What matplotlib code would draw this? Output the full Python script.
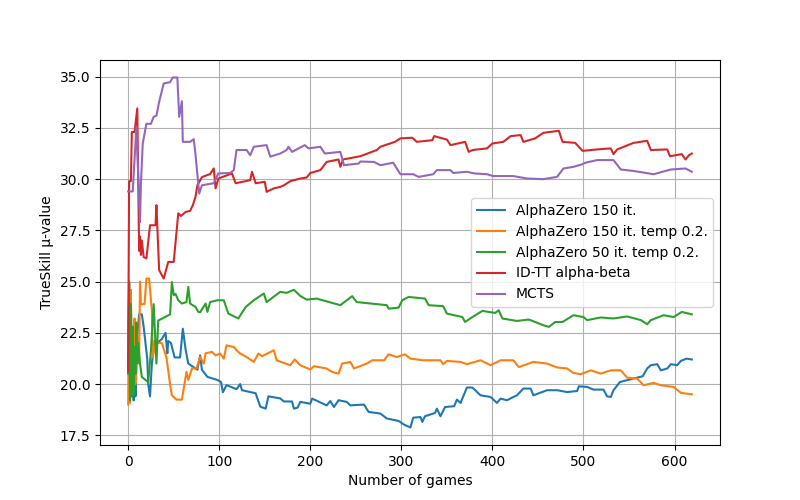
import matplotlib
matplotlib.use("Agg")
import matplotlib.pyplot as plt

# AlphaZero 150 it.
az150_x = [0, 1, 2, 3, 4, 5, 6, 7, 8, 9, 10, 12, 15, 17, 19, 21, 22, 24, 26, 29, 32, 37, 41, 43, 44,
           47, 51, 57, 60, 63, 66, 76, 79, 81, 87, 98, 102, 104, 108, 119, 123, 125, 140, 145, 151,
           154, 167, 171, 180, 182, 186, 189, 200, 202, 218, 222, 226, 231, 240, 244, 259, 264, 277,
           284, 297, 303, 310, 313, 321, 323, 326, 337, 339, 343, 348, 358, 361, 365, 372, 378, 387,
           398, 405, 409, 416, 423, 427, 434, 442, 445, 460, 471, 482, 493, 495, 504, 511, 522, 526,
           530, 533, 540, 548, 555, 565, 570, 574, 581, 585, 592, 596, 603, 607, 613, 619]
az150_y = [20.7, 25.0, 19.1, 24.0, 19.4, 22.6, 19.2, 21.5, 19.4, 20.8, 22.4, 23.4, 23.4, 22.8, 22.0,
           21.2, 20.0, 19.4, 21.0, 22.1, 22.0, 22.2, 22.5, 21.5, 22.1, 22.0, 21.3, 21.3, 22.7, 21.7,
           21.0, 20.7, 21.4, 20.7, 20.35, 20.2, 20.1, 19.6, 19.95, 19.75, 20.0, 19.7, 19.55, 18.9,
           18.8, 19.4, 19.3, 19.15, 19.15, 18.8, 18.85, 19.13, 19.04, 19.29, 18.96, 19.17, 18.88,
           19.21, 19.13, 18.96, 19.0, 18.64, 18.56, 18.32, 18.2, 18.02, 17.88, 18.36, 18.39, 18.15,
           18.43, 18.59, 18.8, 18.43, 18.88, 18.92, 19.24, 19.08, 19.83, 19.83, 19.45, 19.37, 19.08,
           19.29, 19.21, 19.37, 19.45, 19.78, 19.78, 19.45, 19.7, 19.7, 19.61, 19.66, 19.89, 19.86,
           19.73, 19.73, 19.4, 19.37, 19.7, 20.1, 20.19, 20.27, 20.38, 20.76, 20.92, 20.97, 20.67,
           20.76, 20.97, 20.92, 21.13, 21.24, 21.2]

# AlphaZero 150 it. temp 0.2
az150t_x = [0, 1, 2, 3, 4, 5, 6, 7, 8, 9, 10, 12, 13, 14, 18, 20, 23, 26, 27, 30, 33, 37, 42, 46, 48,
            53, 59, 64, 66, 70, 75, 79, 83, 85, 92, 96, 101, 105, 108, 116, 119, 123, 130, 138, 143,
            147, 160, 163, 178, 183, 189, 200, 204, 218, 224, 231, 235, 244, 248, 262, 268, 281, 286,
            295, 304, 310, 324, 343, 346, 350, 365, 372, 387, 398, 409, 423, 429, 445, 460, 471, 482,
            489, 497, 508, 519, 530, 541, 548, 559, 566, 577, 585, 599, 607, 619]
az150t_y = [19.0, 25.0, 19.1, 24.6, 19.5, 22.0, 19.7, 23.2, 20.0, 21.5, 22.3, 21.0, 25.0, 23.9, 23.9,
            25.15, 25.15, 23.6, 21.3, 22.1, 22.0, 22.0, 21.3, 20.0, 19.45, 19.24, 19.24, 20.6, 20.2,
            20.76, 20.76, 21.32, 21.0, 21.5, 21.57, 21.4, 21.49, 21.24, 21.89, 21.81, 21.65, 21.49,
            21.32, 21.08, 21.49, 21.36, 21.65, 21.16, 20.92, 21.2, 20.92, 20.71, 20.87, 20.76, 20.59,
            20.51, 21.0, 21.08, 20.76, 21.0, 21.16, 21.16, 21.45, 21.32, 21.45, 21.24, 21.16, 21.16,
            20.97, 21.13, 21.08, 20.97, 21.16, 20.92, 21.16, 21.16, 20.83, 21.08, 21.0, 20.81, 20.76,
            20.54, 20.48, 20.67, 20.51, 20.67, 20.67, 20.31, 20.27, 19.94, 20.06, 19.94, 19.86,
            19.57, 19.5]

# AlphaZero 50 it. temp 0.2
az50t_x = [0, 1, 2, 3, 4, 5, 6, 7, 8, 9, 10, 11, 13, 15, 19, 22, 25, 28, 31, 33, 41, 46, 48, 50, 52,
           55, 59, 64, 66, 68, 74, 77, 79, 85, 87, 90, 98, 105, 110, 121, 129, 138, 149, 152, 167,
           174, 182, 189, 196, 207, 233, 246, 251, 284, 286, 297, 301, 308, 326, 330, 346, 350, 367,
           370, 378, 389, 403, 407, 411, 427, 440, 456, 462, 469, 477, 489, 500, 504, 519, 533, 548,
           563, 570, 574, 588, 599, 608, 619]
az50t_y = [20.5, 24.9, 19.2, 23.9, 19.4, 22.8, 19.5, 21.8, 20.5, 23.0, 21.0, 22.0, 21.0, 20.35, 20.2,
           20.1, 21.65, 23.9, 21.0, 23.1, 23.28, 23.4, 24.98, 24.34, 24.4, 24.09, 23.93, 24.0, 24.74,
           23.93, 23.76, 23.52, 23.5, 23.93, 23.52, 24.0, 24.09, 24.09, 23.44, 23.2, 23.76, 24.09,
           24.42, 24.0, 24.5, 24.45, 24.6, 24.3, 24.12, 24.17, 23.85, 24.29, 24.0, 23.85, 23.68,
           23.73, 24.09, 24.25, 24.17, 23.85, 23.8, 23.44, 23.27, 23.03, 23.27, 23.57, 23.47, 23.6,
           23.2, 23.08, 23.15, 22.87, 22.79, 23.03, 23.03, 23.36, 23.27, 23.12, 23.25, 23.2, 23.3,
           23.12, 22.92, 23.12, 23.36, 23.27, 23.52, 23.4]

# ID-TT alpha-beta
idtt_x = [0, 1, 3, 4, 7, 10, 12, 13, 14, 15, 17, 20, 24, 30, 31, 34, 39, 44, 50, 55, 58, 63, 68, 71,
          74, 76, 81, 90, 94, 96, 99, 114, 118, 134, 136, 140, 150, 152, 160, 167, 171, 178, 189, 196,
          200, 211, 218, 231, 233, 236, 255, 273, 277, 293, 299, 312, 317, 334, 336, 350, 354, 370,
          374, 378, 394, 400, 412, 420, 431, 434, 447, 456, 473, 477, 491, 499, 515, 530, 533, 537,
          555, 570, 574, 592, 595, 608, 612, 616, 619]
idtt_y = [20.6, 29.9, 29.9, 32.3, 32.3, 33.45, 26.5, 27.2, 26.3, 27.0, 26.2, 26.13, 27.75, 27.75,
          28.73, 25.56, 25.15, 25.96, 25.96, 28.33, 28.2, 28.4, 28.45, 28.73, 29.15, 29.7, 30.1,
          30.25, 30.52, 29.55, 30.03, 30.28, 29.8, 29.95, 30.36, 29.8, 29.87, 29.38, 29.55, 29.62,
          29.7, 29.9, 30.03, 30.08, 30.3, 30.44, 30.84, 30.96, 30.6, 30.96, 31.12, 31.42, 31.58,
          31.82, 31.99, 32.02, 31.82, 31.9, 32.1, 31.93, 31.66, 31.82, 31.33, 31.42, 31.5, 31.74,
          31.82, 32.1, 32.15, 31.82, 31.99, 32.26, 32.36, 31.82, 31.77, 31.38, 31.45, 31.5, 31.22,
          31.45, 31.77, 31.87, 31.42, 31.45, 31.12, 31.22, 30.96, 31.17, 31.25]

# MCTS
mcts_x = [0, 5, 9, 13, 14, 16, 20, 25, 28, 31, 34, 39, 46, 49, 54, 56, 59, 60, 68, 72, 74, 78, 81,
          94, 99, 112, 116, 119, 130, 134, 138, 152, 156, 167, 174, 176, 180, 194, 198, 211, 216,
          233, 237, 253, 255, 270, 277, 291, 299, 313, 319, 335, 339, 354, 357, 372, 380, 394, 401,
          423, 438, 456, 471, 478, 489, 499, 502, 515, 533, 541, 555, 577, 596, 612, 619]
mcts_y = [29.4, 29.4, 32.55, 27.9, 29.8, 31.74, 32.7, 32.7, 33.04, 33.1, 33.77, 34.67, 34.73, 34.96,
          34.96, 33.04, 33.8, 31.82, 31.82, 31.95, 31.17, 29.3, 29.7, 29.8, 30.28, 30.3, 30.44, 31.42,
          31.42, 31.17, 31.58, 31.66, 31.1, 31.25, 31.42, 31.58, 31.33, 31.66, 31.5, 31.58, 31.25,
          31.33, 30.68, 30.76, 30.86, 30.84, 30.68, 30.8, 30.24, 30.24, 30.11, 30.24, 30.44, 30.44,
          30.3, 30.36, 30.28, 30.24, 30.15, 30.15, 30.03, 30.0, 30.11, 30.52, 30.6, 30.73, 30.8,
          30.93, 30.93, 30.47, 30.4, 30.24, 30.47, 30.52, 30.36]

fig, ax = plt.subplots(figsize=(8, 5), dpi=100)

ax.plot(az150_x, az150_y, label="AlphaZero 150 it.")
ax.plot(az150t_x, az150t_y, label="AlphaZero 150 it. temp 0.2.")
ax.plot(az50t_x, az50t_y, label="AlphaZero 50 it. temp 0.2.")
ax.plot(idtt_x, idtt_y, label="ID-TT alpha-beta")
ax.plot(mcts_x, mcts_y, label="MCTS")

ax.set_xlabel("Number of games")
ax.set_ylabel("TrueSkill μ-value")
ax.grid(True)
ax.legend(loc="center right")

fig.savefig("out.png")
